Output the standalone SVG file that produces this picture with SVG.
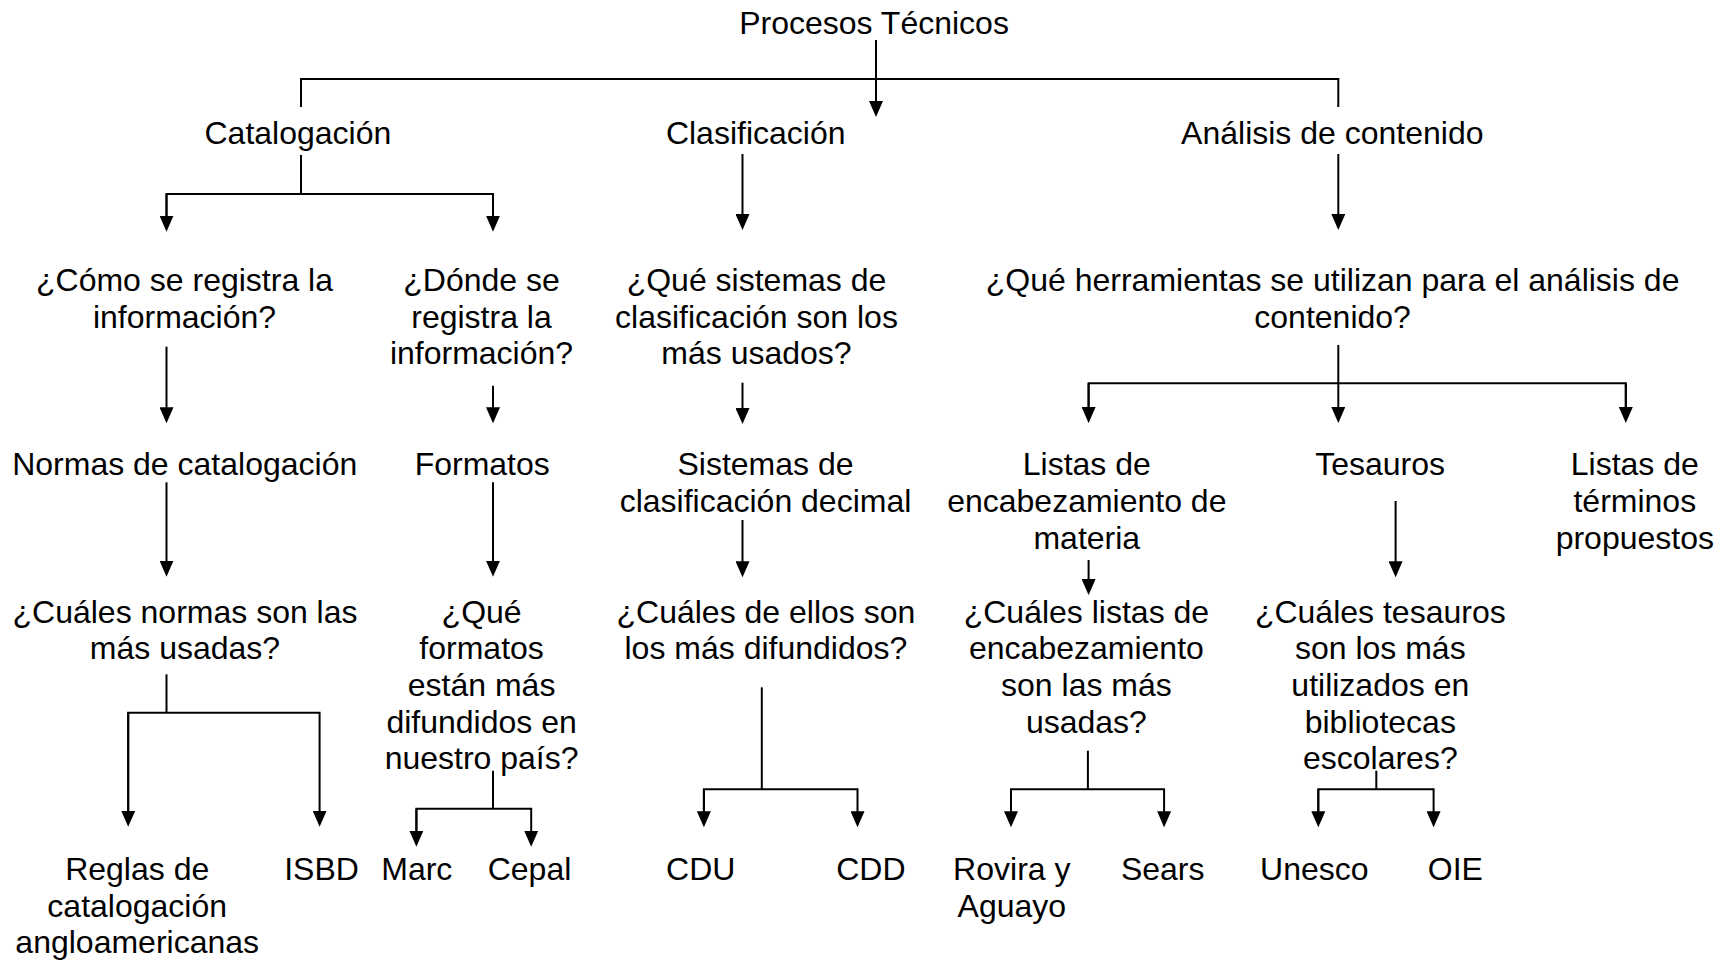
<svg xmlns="http://www.w3.org/2000/svg" width="1728" height="961" viewBox="0 0 1728 961">
<style>
text{font-family:"Liberation Sans",Arial,sans-serif;font-size:32px;fill:#000;text-anchor:middle}
.c{fill:none;stroke:#000;stroke-width:2}
.a{marker-end:url(#ah)}
</style>
<defs>
<marker id="ah" markerUnits="userSpaceOnUse" markerWidth="16" markerHeight="14" refX="6" refY="7" orient="auto" viewBox="0 0 16 14">
<path d="M0,0 L16,7 L0,14 z" fill="#000"/>
</marker>
</defs>
<rect width="1728" height="961" fill="#fff"/>
<g id="connectors">
<path class="c" d="M301,107 V79 H1338.3 V107"/>
<path class="c a" d="M876,40 V107"/>
<path class="c" d="M301,155 V194"/>
<path class="c a" d="M166.5,221.7 V194 H493 V221.7"/>
<path class="c a" d="M166.5,194 V221.7"/>
<path class="c a" d="M742.5,154 V220"/>
<path class="c a" d="M1338.3,154 V220"/>
<path class="c a" d="M166.5,346.7 V413.3"/>
<path class="c a" d="M493,385.7 V413.3"/>
<path class="c a" d="M742.5,382.7 V414"/>
<path class="c a" d="M1338.3,345 V413"/>
<path class="c" d="M1088.6,413 V383.3 H1625.8 V413"/>
<path class="c a" d="M1088.6,383.3 V413"/>
<path class="c a" d="M1625.8,383.3 V413"/>
<path class="c a" d="M166.5,482.3 V566.7"/>
<path class="c a" d="M493,482.3 V566.7"/>
<path class="c a" d="M742.5,520 V567.3"/>
<path class="c a" d="M1088.6,560 V585"/>
<path class="c a" d="M1395.6,501 V567.3"/>
<path class="c" d="M166.5,674.3 V712.7"/>
<path class="c a" d="M128.2,816.7 V712.7 H319.6 V816.7"/>
<path class="c a" d="M128.2,712.7 V816.7"/>
<path class="c" d="M493,770.7 V808.7"/>
<path class="c a" d="M416.4,836.7 V808.7 H531.2 V836.7"/>
<path class="c a" d="M416.4,808.7 V836.7"/>
<path class="c" d="M761.8,687.3 V789.3"/>
<path class="c a" d="M703.9,817.3 V789.3 H857.5 V817.3"/>
<path class="c a" d="M703.9,789.3 V817.3"/>
<path class="c" d="M1087.9,750.7 V789.3"/>
<path class="c a" d="M1011,817.3 V789.3 H1164.1 V817.3"/>
<path class="c a" d="M1011,789.3 V817.3"/>
<path class="c" d="M1376.3,770.7 V789.3"/>
<path class="c a" d="M1318.3,817.3 V789.3 H1433.6 V817.3"/>
<path class="c a" d="M1318.3,789.3 V817.3"/>
</g>
<g id="n-procesos"><text x="874" y="34">Procesos Técnicos</text></g>
<g id="n-catalogacion"><text x="297.9" y="144.2">Catalogación</text></g>
<g id="n-clasificacion"><text x="755.7" y="144.2">Clasificación</text></g>
<g id="n-analisis"><text x="1332.3" y="144.2">Análisis de contenido</text></g>
<g id="n-como"><text><tspan x="184.5" y="291">¿Cómo se registra la</tspan><tspan x="184.5" y="327.7">información?</tspan></text></g>
<g id="n-donde"><text><tspan x="481.5" y="291">¿Dónde se</tspan><tspan x="481.5" y="327.7">registra la</tspan><tspan x="481.5" y="364.4">información?</tspan></text></g>
<g id="n-que-sistemas"><text><tspan x="756.5" y="291">¿Qué sistemas de</tspan><tspan x="756.5" y="327.7">clasificación son los</tspan><tspan x="756.5" y="364.4">más usados?</tspan></text></g>
<g id="n-herramientas"><text><tspan x="1332.6" y="291">¿Qué herramientas se utilizan para el análisis de</tspan><tspan x="1332.6" y="327.7">contenido?</tspan></text></g>
<g id="n-normas"><text x="184.7" y="475.2">Normas de catalogación</text></g>
<g id="n-formatos"><text x="482.2" y="475.2">Formatos</text></g>
<g id="n-sistemas-decimal"><text><tspan x="765.5" y="475.2">Sistemas de</tspan><tspan x="765.5" y="511.9">clasificación decimal</tspan></text></g>
<g id="n-listas-enc"><text><tspan x="1086.8" y="475.2">Listas de</tspan><tspan x="1086.8" y="511.9">encabezamiento de</tspan><tspan x="1086.8" y="548.6">materia</tspan></text></g>
<g id="n-tesauros"><text x="1380.1" y="475.2">Tesauros</text></g>
<g id="n-listas-term"><text><tspan x="1634.8" y="475.2">Listas de</tspan><tspan x="1634.8" y="511.9">términos</tspan><tspan x="1634.8" y="548.6">propuestos</tspan></text></g>
<g id="n-cuales-normas"><text><tspan x="185" y="622.5">¿Cuáles normas son las</tspan><tspan x="185" y="659.2">más usadas?</tspan></text></g>
<g id="n-que-formatos"><text><tspan x="481.6" y="622.5">¿Qué</tspan><tspan x="481.6" y="659.2">formatos</tspan><tspan x="481.6" y="695.9">están más</tspan><tspan x="481.6" y="732.6">difundidos en</tspan><tspan x="481.6" y="769.3">nuestro país?</tspan></text></g>
<g id="n-cuales-ellos"><text><tspan x="765.9" y="622.5">¿Cuáles de ellos son</tspan><tspan x="765.9" y="659.2">los más difundidos?</tspan></text></g>
<g id="n-cuales-listas"><text><tspan x="1086.4" y="622.5">¿Cuáles listas de</tspan><tspan x="1086.4" y="659.2">encabezamiento</tspan><tspan x="1086.4" y="695.9">son las más</tspan><tspan x="1086.4" y="732.6">usadas?</tspan></text></g>
<g id="n-cuales-tesauros"><text><tspan x="1380.3" y="622.5">¿Cuáles tesauros</tspan><tspan x="1380.3" y="659.2">son los más</tspan><tspan x="1380.3" y="695.9">utilizados en</tspan><tspan x="1380.3" y="732.6">bibliotecas</tspan><tspan x="1380.3" y="769.3">escolares?</tspan></text></g>
<g id="n-reglas"><text><tspan x="137.2" y="879.9">Reglas de</tspan><tspan x="137.2" y="916.6">catalogación</tspan><tspan x="137.2" y="953.3">angloamericanas</tspan></text></g>
<g id="n-isbd"><text x="321.5" y="879.9">ISBD</text></g>
<g id="n-marc"><text x="416.8" y="879.9">Marc</text></g>
<g id="n-cepal"><text x="529.5" y="879.9">Cepal</text></g>
<g id="n-cdu"><text x="700.7" y="879.9">CDU</text></g>
<g id="n-cdd"><text x="870.9" y="879.9">CDD</text></g>
<g id="n-rovira"><text><tspan x="1011.8" y="879.9">Rovira y</tspan><tspan x="1011.8" y="916.6">Aguayo</tspan></text></g>
<g id="n-sears"><text x="1162.7" y="879.9">Sears</text></g>
<g id="n-unesco"><text x="1314.3" y="879.9">Unesco</text></g>
<g id="n-oie"><text x="1455.3" y="879.9">OIE</text></g>
</svg>
